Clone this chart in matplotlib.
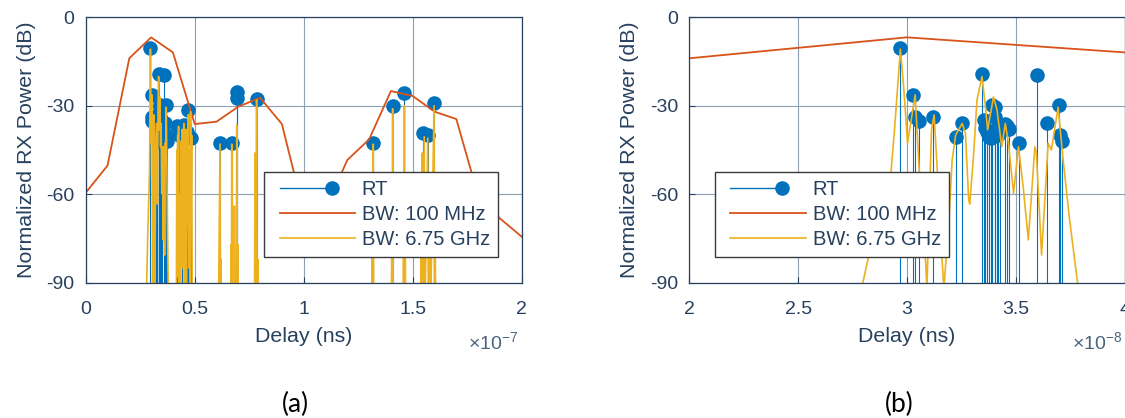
import numpy as np
import matplotlib
matplotlib.use("Agg")
import matplotlib.pyplot as plt
from matplotlib.lines import Line2D
from matplotlib.legend_handler import HandlerBase

plt.rcParams['font.family'] = ['Liberation Sans', 'DejaVu Sans']
plt.rcParams['mathtext.fontset'] = 'custom'
plt.rcParams['mathtext.rm'] = 'Liberation Sans'
plt.rcParams['axes.unicode_minus'] = False

# ray-tracing taps: delay (ns), normalized power (dB)
rt_delay = [29.70, 30.30, 30.36, 30.55, 31.22, 32.24, 32.54, 33.45, 33.53, 33.60,
            33.68, 33.75, 33.85, 33.91, 34.03, 34.06, 34.14, 34.20, 34.30, 34.52,
            34.60, 34.67, 35.13, 35.96, 36.46, 36.97, 37.03, 37.13,
            41.8, 42.8, 44.0, 45.2, 46.5, 47.1, 48.4,
            61.6, 66.9, 69.3, 69.4, 78.4,
            131.9, 140.8, 146.2, 154.9, 156.9, 159.8]
rt_power = [-10.5, -26.3, -33.7, -35.0, -33.7, -40.5, -35.7, -19.2, -34.8, -37.7,
            -38.8, -40.5, -41.0, -29.8, -30.3, -33.7, -37.5, -40.0, -39.0, -36.3,
            -37.0, -38.0, -42.5, -19.6, -35.9, -29.9, -39.9, -42.0,
            -37.0, -40.0, -40.5, -36.5, -39.0, -31.5, -41.0,
            -42.5, -42.5, -25.5, -27.5, -27.8,
            -42.5, -30.2, -25.6, -39.4, -39.9, -29.2]

# 100 MHz band-limited response (10 ns samples)
bw100_delay = [0, 10, 20, 30, 40, 50, 60, 70, 80, 90, 100,
               110, 120, 130, 140, 150, 160, 170, 180, 190, 200]
bw100_power = [-59.5, -50.3, -13.9, -6.8, -11.9, -36.2, -35.4, -30.3, -27.3, -36.2, -66.0,
               -65.0, -48.4, -41.4, -25.0, -26.7, -32.0, -34.5, -60.4, -68.2, -74.4]

# 6.75 GHz band-limited response
bw675_delay = [27.6, 27.95, 28.44, 28.85, 29.27, 29.43, 29.70, 29.85, 30.03, 30.38,
               30.57, 30.80, 30.92, 31.13, 31.25, 31.40, 31.55, 31.70, 31.93, 32.08,
               32.24, 32.54, 32.69, 32.84, 32.89, 33.07, 33.22, 33.45, 33.61, 33.71,
               33.98, 34.14, 34.36, 34.52, 34.67, 34.90, 35.13, 35.35, 35.58, 35.88,
               35.95, 36.19, 36.49, 36.64, 36.95, 37.18, 37.48, 37.86, 38.1,
               41.6, 41.8, 42.0, 42.2, 42.4, 42.6, 42.8, 43.2, 43.5, 43.8,
               44.0, 44.2, 44.4, 44.6, 44.8, 45.0, 45.3, 45.6, 45.8, 46.0,
               46.2, 46.6, 46.8, 47.1, 47.3, 47.6, 47.9, 48.1, 48.4, 48.6, 48.9,
               60.9, 61.4, 61.6, 61.8, 62.1, 62.3,
               66.5, 66.7, 66.85, 67.0, 67.2, 67.9, 68.2, 68.5, 69.1, 69.3, 69.5, 69.7, 69.9,
               77.4, 77.7, 78.0, 78.4, 78.7, 79.0, 79.2,
               131.2, 131.5, 131.7, 131.9, 132.1,
               140.2, 140.4, 140.6, 140.8, 141.0,
               145.6, 145.8, 146.0, 146.2, 146.4, 146.6, 146.8,
               153.6, 153.8, 154.0, 154.4, 154.7, 155.3, 155.6, 156.9, 157.2,
               158.0, 158.2, 159.8, 160.0, 160.3, 160.6]
bw675_power = [-100, -90.8, -74.4, -63.0, -52.4, -38.2, -10.8, -23.5, -42.7, -26.3,
               -52.4, -74.4, -92.0, -38.2, -33.1, -52.4, -74.4, -92.0, -68.8, -48.4,
               -39.9, -36.0, -39.4, -62.0, -63.3, -46.1, -28.0, -20.1, -30.3, -38.2,
               -27.0, -31.4, -43.9, -36.0, -42.7, -59.7, -43.9, -58.0, -75.5, -43.9,
               -46.0, -80.6, -42.7, -45.0, -30.5, -48.4, -68.8, -91.0, -100,
               -95, -45, -88, -40, -70, -37, -92, -60, -93, -42,
               -75, -38, -85, -41, -65, -36, -90, -48, -80, -38,
               -92, -42, -70, -33, -85, -45, -90, -32, -60, -40, -100,
               -100, -58, -43, -100, -82, -100,
               -100, -77, -100, -43, -100, -100, -64, -100, -100, -36.5, -100, -77, -100,
               -100, -46, -100, -28, -100, -82, -100,
               -100, -80, -100, -43, -100,
               -100, -78, -100, -31, -100,
               -100, -75, -100, -30, -100, -82, -100,
               -100, -78, -100, -46, -100, -40.5, -100, -41, -100,
               -80, -100, -30, -100, -78, -100]

BLUE = '#0072BD'
ORANGE = '#D95319'
YELLOW = '#EDB120'
INK = '#26405e'
GRID = '#8fa0b3'
MS = 10.5
W, H = 1125, 418


class MatlabHandle(HandlerBase):
    """legend sample drawn like MATLAB's: inset line, optional marker at its end"""
    def __init__(self, color, lw, marker=False):
        super().__init__()
        self.color, self.lw, self.marker = color, lw, marker

    def create_artists(self, legend, orig_handle, xdescent, ydescent,
                       width, height, fontsize, trans):
        y = (height - ydescent) / 2
        x0 = -xdescent + 0.09 * width
        if self.marker:
            x1 = -xdescent + 0.72 * width
        else:
            x1 = -xdescent + width
        arts = [Line2D([x0, x1], [y, y], color=self.color, lw=self.lw, transform=trans)]
        if self.marker:
            arts.append(Line2D([x1], [y], marker='o', ms=MS, color=self.color, mec='none',
                               ls='none', transform=trans))
        return arts


def panel(rect, xlim, xticks, xticklabels, leg_x):
    ax = fig.add_axes([rect[0] / W, 1 - rect[3] / H, (rect[2] - rect[0]) / W,
                       (rect[3] - rect[1]) / H])
    t = np.array(rt_delay) * 1e-9
    ax.vlines(t, -100, rt_power, color=BLUE, lw=0.8)
    ax.plot(t, rt_power, 'o', ms=MS, color=BLUE, mec='none')
    ax.plot(np.array(bw100_delay) * 1e-9, bw100_power, color=ORANGE, lw=1.3)
    ax.plot(np.array(bw675_delay) * 1e-9, bw675_power, color=YELLOW, lw=1.2)

    ax.set_xlim(xlim)
    ax.set_ylim(-90, 0)
    ax.set_xticks(xticks)
    ax.set_xticklabels(xticklabels)
    ax.set_yticks([-90, -60, -30, 0])
    ax.grid(True, color=GRID, lw=0.8)
    ax.set_axisbelow(True)
    for s in ax.spines.values():
        s.set_color(INK)
        s.set_linewidth(0.9)
    ax.tick_params(direction='in', length=4, width=0.8, colors=INK, labelsize=14)
    ax.tick_params(axis='x', pad=13)
    ax.tick_params(axis='y', pad=8)
    ax.set_xlabel('Delay (ns)', fontsize=15.4, color=INK)
    ax.set_ylabel('Normalized RX Power (dB)', fontsize=15.4, color=INK)
    ax.xaxis.set_label_coords(0.5, -0.168)
    ax.yaxis.set_label_coords(-0.115, 0.5)

    h_rt = Line2D([], [], color=BLUE)
    h_100 = Line2D([], [], color=ORANGE)
    h_675 = Line2D([], [], color=YELLOW)
    leg = ax.legend([h_rt, h_100, h_675], ['RT', 'BW: 100 MHz', 'BW: 6.75 GHz'],
                    handler_map={h_rt: MatlabHandle(BLUE, 1.0, marker=True),
                                 h_100: MatlabHandle(ORANGE, 1.3),
                                 h_675: MatlabHandle(YELLOW, 1.2)},
                    loc='upper left', bbox_to_anchor=(leg_x, 0.416), borderaxespad=0,
                    fontsize=14.5, fancybox=False, framealpha=1, edgecolor='#3a3a3a',
                    handlelength=4.1, handletextpad=0.35, labelspacing=0.28,
                    borderpad=0.4)
    leg.get_frame().set_linewidth(1.0)
    for txt in leg.get_texts():
        txt.set_color(INK)
    return ax


fig = plt.figure(figsize=(W / 100, H / 100), dpi=100)

panel((85.7, 17.3, 521.7, 282.7), (0, 2e-7), np.arange(0, 2.01e-7, 0.5e-7),
      ['0', '0.5', '1', '1.5', '2'], 0.409)
panel((689.3, 17.3, 1124.5, 282.7), (2e-8, 4e-8), np.arange(2e-8, 4.01e-8, 0.5e-8),
      ['2', '2.5', '3', '3.5', '4'], 0.059)

fig.text(468 / W, 1 - 350 / H, r'$\times10^{-7}$', fontsize=14, color='#4b6580', va='baseline')
fig.text(1072 / W, 1 - 350 / H, r'$\times10^{-8}$', fontsize=14, color='#4b6580', va='baseline')
fig.text(295 / W, 1 - 404 / H, '(a)', fontsize=19, family='Lato', ha='center', va='center')
fig.text(899 / W, 1 - 404 / H, '(b)', fontsize=19, family='Lato', ha='center', va='center')

fig.savefig('out.png', dpi=100)
